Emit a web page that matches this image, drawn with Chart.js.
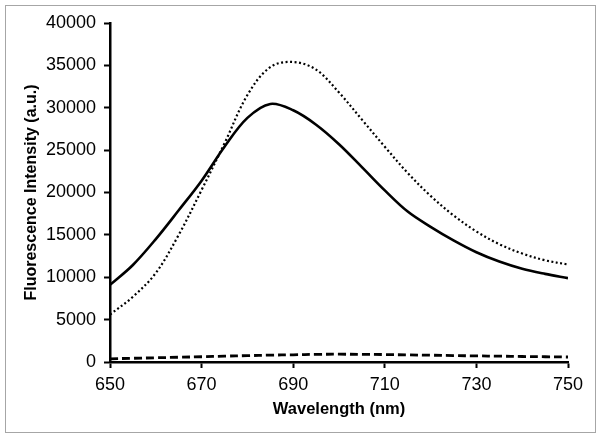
<!DOCTYPE html>
<html>
<head>
<meta charset="utf-8">
<script src="https://cdn.jsdelivr.net/npm/chart.js@4/dist/chart.umd.min.js"></script>
<style>
  html, body { margin: 0; padding: 0; background: #fff; }
  #wrap { width: 601px; height: 437px; position: relative; }
</style>
</head>
<body>
<div id="wrap"><canvas id="spectrumChart" width="601" height="437"></canvas></div>
<script>
// wavelengths (nm) and the three spectra
var wavelengths = [650, 655, 660, 665, 670, 675, 680, 685, 690, 695, 700, 705, 710, 715, 720, 725, 730, 735, 740, 745, 750];
var solidSeries = [9100, 11450, 14500, 17900, 21400, 25400, 28800, 30450, 29700, 28000, 25700, 23000, 20250, 17750, 15950, 14350, 12950, 11850, 11000, 10400, 9900];
var dottedSeries = [5600, 7700, 10500, 15000, 20300, 25800, 31500, 34800, 35400, 34500, 31800, 28600, 25400, 22300, 19600, 17300, 15400, 13900, 12800, 12000, 11500];
var dashedSeries = [380, 440, 500, 560, 620, 690, 750, 810, 850, 900, 920, 900, 880, 840, 800, 760, 720, 690, 650, 620, 590];

var xTitle = 'Wavelength (nm)';
var yTitle = 'Fluorescence Intensity (a.u.)';

function points(values) {
    return wavelengths.map(function (w, i) { return { x: w, y: values[i] }; });
}

// grey frame round the whole figure
var frame = {
    id: 'frame',
    beforeDraw: function (chart) {
        var ctx = chart.ctx;
        ctx.save();
        ctx.fillStyle = '#fff';
        ctx.fillRect(0, 0, chart.width, chart.height);
        ctx.strokeStyle = '#a6a6a6';
        ctx.lineWidth = 1;
        ctx.strokeRect(5.5, 5.5, 590, 427);
        ctx.restore();
    }
};

Chart.defaults.font.family = '"Liberation Sans", Arial, sans-serif';
Chart.defaults.color = '#000';

var spectrum = document.getElementById('spectrumChart').getContext('2d');
var spectrumChart = new Chart(spectrum, {
    type: 'line',
    data: {
        datasets: [
            {
                label: 'solid',
                data: points(solidSeries),
                borderColor: '#000',
                borderWidth: 2.6,
                pointRadius: 0,
                tension: 0.35
            },
            {
                label: 'dotted',
                data: points(dottedSeries),
                borderColor: '#000',
                borderWidth: 2.2,
                borderDash: [2, 2.5],
                pointRadius: 0,
                tension: 0.35
            },
            {
                label: 'dashed',
                data: points(dashedSeries),
                borderColor: '#000',
                borderWidth: 2.8,
                borderDash: [8, 4],
                pointRadius: 0,
                tension: 0.35
            }
        ]
    },
    options: {
        responsive: false,
        animation: false,
        layout: { padding: { top: 23, right: 33, bottom: 0, left: 0 } },
        plugins: {
            legend: { display: false },
            tooltip: { enabled: false }
        },
        scales: {
            x: {
                type: 'linear',
                min: 650,
                max: 750,
                ticks: { stepSize: 20, padding: 6, font: { size: 18 }, maxRotation: 0 },
                grid: { drawOnChartArea: false, drawTicks: true, tickLength: 6, tickColor: '#000', tickWidth: 2 },
                border: { color: '#000', width: 2.5 },
                title: { display: true, text: xTitle, font: { size: 16.5, weight: 'bold' }, padding: { top: 0, bottom: 18 } },
                afterFit: function (scale) { scale.height = 75; }
            },
            y: {
                min: 0,
                max: 40000,
                ticks: {
                    stepSize: 5000,
                    padding: 8,
                    font: { size: 18 },
                    callback: function (v) { return String(v); }
                },
                grid: { drawOnChartArea: false, drawTicks: true, tickLength: 6, tickColor: '#000', tickWidth: 2 },
                border: { color: '#000', width: 2.5 },
                title: { display: true, text: yTitle, font: { size: 16, weight: 'bold' }, padding: { top: 22, bottom: 0 } },
                afterFit: function (scale) { scale.width = 110; }
            }
        }
    },
    plugins: [frame]
});
</script>
</body>
</html>
